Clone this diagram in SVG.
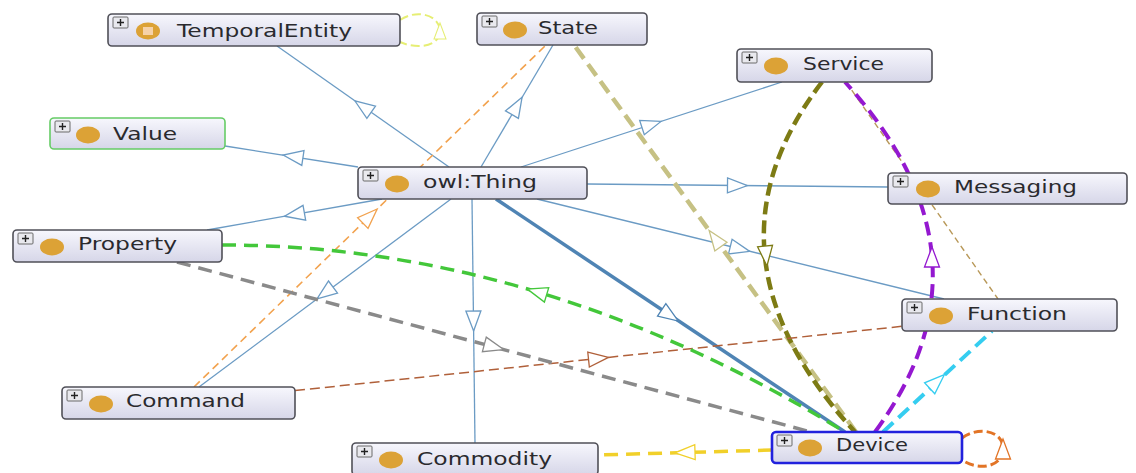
<svg xmlns="http://www.w3.org/2000/svg" xmlns:xlink="http://www.w3.org/1999/xlink" width="1136" height="473" viewBox="0 0 1136 473">
  <defs>
    <linearGradient id="nodeFill" x1="0" y1="0" x2="0" y2="1">
      <stop offset="0" stop-color="#f7f7fd"/>
      <stop offset="1" stop-color="#d6d6e8"/>
    </linearGradient>
    <!-- open triangular arrowhead, centred on the origin, pointing along +x -->
    <path id="ah" d="M10,0 L-10,-7.5 L-10,7.5 Z"/>
    <!-- expand toggle shown at each node's top-left corner -->
    <g id="plus">
      <rect x="0" y="0" width="15" height="11" rx="1" fill="#e9e9ee" stroke="#6a6a6a" stroke-width="1"/>
      <path d="M4,5.5 H11 M7.5,2 V9" stroke="#222" stroke-width="1.4"/>
    </g>
  </defs>
  <style>
    .box { fill: url(#nodeFill); stroke: #505058; stroke-width: 1.6; }
    .icon { fill: #dca236; }
    .lbl { font-family: "DejaVu Sans", "Liberation Sans", sans-serif; font-size: 17px; fill: #2a2a2e; }
    .edge { fill: none; }
    .head { fill: #ffffff; stroke-width: 1.3; }
    .sub { stroke: #6b9bc4; stroke-width: 1.3; }
    .subThick { stroke: #4f84b4; stroke-width: 3.5; }
  </style>

  <rect width="1136" height="473" fill="#ffffff"/>

  <g id="connectors">
    <!-- subclass links from owl:Thing -->
    <line class="edge sub" x1="449" y1="167" x2="277" y2="46"/>
    <use xlink:href="#ah" class="head" stroke="#6b9bc4" transform="translate(363,106.5) rotate(215.1)"/>
    <line class="edge sub" x1="481" y1="167" x2="553" y2="45"/>
    <use xlink:href="#ah" class="head" stroke="#6b9bc4" transform="translate(517,106) rotate(-59.7)"/>
    <line class="edge sub" x1="521" y1="167" x2="782" y2="82"/>
    <use xlink:href="#ah" class="head" stroke="#6b9bc4" transform="translate(651.5,124.5) rotate(-18)"/>
    <line class="edge sub" x1="358" y1="167" x2="225" y2="146"/>
    <use xlink:href="#ah" class="head" stroke="#6b9bc4" transform="translate(293,156.5) rotate(188.5)"/>
    <line class="edge sub" x1="587" y1="184" x2="888" y2="187"/>
    <use xlink:href="#ah" class="head" stroke="#6b9bc4" transform="translate(737.5,185.5) rotate(0.5)"/>
    <line class="edge sub" x1="537" y1="199" x2="944" y2="299"/>
    <use xlink:href="#ah" class="head" stroke="#6b9bc4" transform="translate(740,249) rotate(13.8)"/>
    <line class="edge sub" x1="382" y1="199" x2="207" y2="230"/>
    <use xlink:href="#ah" class="head" stroke="#6b9bc4" transform="translate(294.5,214.5) rotate(169.9)"/>
    <line class="edge sub" x1="472" y1="199" x2="475" y2="443"/>
    <use xlink:href="#ah" class="head" stroke="#6b9bc4" transform="translate(473.5,321) rotate(89.4)"/>
    <line class="edge sub" x1="451" y1="199" x2="199" y2="387"/>
    <use xlink:href="#ah" class="head" stroke="#6b9bc4" transform="translate(325,293) rotate(143.2)"/>
    <line class="edge subThick" x1="496" y1="199" x2="845" y2="432"/>
    <use xlink:href="#ah" class="head" stroke="#4f84b4" transform="translate(670,315.5) rotate(33.75)"/>

    <!-- object property links -->
    <line class="edge" stroke="#f2a24e" stroke-width="1.6" stroke-dasharray="8 5" x1="194" y1="387" x2="546" y2="45"/>
    <use xlink:href="#ah" class="head" stroke="#f2a24e" transform="translate(370,216) rotate(-44.2)"/>

    <line class="edge" stroke="#b89858" stroke-width="1.4" stroke-dasharray="6 4" x1="846" y1="82" x2="998" y2="299"/>

    <line class="edge" stroke="#c6c184" stroke-width="4.5" stroke-dasharray="14 7" x1="856" y1="432" x2="574" y2="45"/>
    <use xlink:href="#ah" class="head" stroke="#c6c184" transform="translate(715,238.5) rotate(233.9)"/>

    <path class="edge" stroke="#7d7b14" stroke-width="4.5" stroke-dasharray="13 6" d="M822,82 Q691,253 855,432"/>
    <use xlink:href="#ah" class="head" stroke="#7d7b14" transform="translate(766,256) rotate(84.6)"/>

    <path class="edge" stroke="#9418d0" stroke-width="4" stroke-dasharray="14 7" d="M875,432 Q1004,257 845,82"/>
    <use xlink:href="#ah" class="head" stroke="#9418d0" transform="translate(932,257) rotate(-90)"/>

    <line class="edge" stroke="#b0603a" stroke-width="1.5" stroke-dasharray="10 5" x1="295" y1="390.6" x2="902" y2="326.3"/>
    <use xlink:href="#ah" class="head" stroke="#b0603a" transform="translate(598.5,358.5) rotate(-6)"/>

    <path class="edge" stroke="#43c73a" stroke-width="3.5" stroke-dasharray="14 8" d="M222,245 Q540,245 845,432"/>
    <use xlink:href="#ah" class="head" stroke="#43c73a" transform="translate(537,292) rotate(196.7)"/>

    <line class="edge" stroke="#8a8a8a" stroke-width="3.5" stroke-dasharray="14 8" x1="177" y1="262" x2="811" y2="432"/>
    <use xlink:href="#ah" class="head" stroke="#8a8a8a" transform="translate(494,347) rotate(15)"/>

    <line class="edge" stroke="#f1d02a" stroke-width="3.5" stroke-dasharray="14 8" x1="772" y1="450" x2="598" y2="455"/>
    <use xlink:href="#ah" class="head" stroke="#f1d02a" transform="translate(685,452.5) rotate(178.2)"/>

    <line class="edge" stroke="#35cdf0" stroke-width="4" stroke-dasharray="14 7" x1="883" y1="432" x2="992" y2="331"/>
    <use xlink:href="#ah" class="head" stroke="#35cdf0" transform="translate(937,381.5) rotate(-42.9)"/>

    <!-- self links -->
    <path class="edge" stroke="#e6ee74" stroke-width="2" stroke-dasharray="9 4" d="M400,20 C418,8 440,16 440,31 C440,46 418,50 400,42"/>
    <use xlink:href="#ah" class="head" stroke="#e6ee74" transform="translate(440,31) rotate(-90) scale(0.8)"/>
    <path class="edge" stroke="#e27426" stroke-width="3" stroke-dasharray="9 4" d="M962,438 C980,425 1004,432 1003,449 C1003,466 980,472 962,460"/>
    <use xlink:href="#ah" class="head" stroke="#e27426" transform="translate(1003,449) rotate(-90)"/>
  </g>

  <g id="node-temporalentity">
    <rect class="box" x="108" y="14" width="292" height="32" rx="4"/>
    <use xlink:href="#plus" x="113" y="17"/>
    <ellipse class="icon" cx="148" cy="31" rx="12" ry="8.5"/>
    <rect x="143" y="27" width="10" height="8" fill="#f6d2a8"/>
    <text class="lbl" x="177" y="37" textLength="175" lengthAdjust="spacingAndGlyphs">TemporalEntity</text>
  </g>

  <g id="node-state">
    <rect class="box" x="477" y="13" width="170" height="32" rx="4"/>
    <use xlink:href="#plus" x="482" y="16"/>
    <ellipse class="icon" cx="515" cy="30" rx="12" ry="8.5"/>
    <text class="lbl" x="538" y="34" textLength="60" lengthAdjust="spacingAndGlyphs">State</text>
  </g>

  <g id="node-service">
    <rect class="box" x="737" y="49" width="195" height="33" rx="4"/>
    <use xlink:href="#plus" x="742" y="52"/>
    <ellipse class="icon" cx="776" cy="66" rx="12" ry="8.5"/>
    <text class="lbl" x="803" y="70" textLength="81" lengthAdjust="spacingAndGlyphs">Service</text>
  </g>

  <g id="node-value">
    <rect class="box" x="50" y="118" width="175" height="31" rx="4" style="stroke:#66cc66"/>
    <use xlink:href="#plus" x="55" y="121"/>
    <ellipse class="icon" cx="88" cy="135" rx="12" ry="8.5"/>
    <text class="lbl" x="113" y="140" textLength="64" lengthAdjust="spacingAndGlyphs">Value</text>
  </g>

  <g id="node-owl-thing">
    <rect class="box" x="358" y="167" width="229" height="32" rx="4"/>
    <use xlink:href="#plus" x="363" y="170"/>
    <ellipse class="icon" cx="397" cy="184" rx="12" ry="8.5"/>
    <text class="lbl" x="423" y="188" textLength="114" lengthAdjust="spacingAndGlyphs">owl:Thing</text>
  </g>

  <g id="node-messaging">
    <rect class="box" x="888" y="173" width="239" height="31" rx="4"/>
    <use xlink:href="#plus" x="893" y="176"/>
    <ellipse class="icon" cx="928" cy="189" rx="12" ry="8.5"/>
    <text class="lbl" x="954" y="193" textLength="123" lengthAdjust="spacingAndGlyphs">Messaging</text>
  </g>

  <g id="node-property">
    <rect class="box" x="13" y="230" width="209" height="32" rx="4"/>
    <use xlink:href="#plus" x="18" y="233"/>
    <ellipse class="icon" cx="52" cy="247" rx="12" ry="8.5"/>
    <text class="lbl" x="78" y="250" textLength="99" lengthAdjust="spacingAndGlyphs">Property</text>
  </g>

  <g id="node-function">
    <rect class="box" x="902" y="299" width="215" height="32" rx="4"/>
    <use xlink:href="#plus" x="907" y="302"/>
    <ellipse class="icon" cx="941" cy="316" rx="12" ry="8.5"/>
    <text class="lbl" x="967" y="320" textLength="100" lengthAdjust="spacingAndGlyphs">Function</text>
  </g>

  <g id="node-command">
    <rect class="box" x="62" y="387" width="233" height="32" rx="4"/>
    <use xlink:href="#plus" x="67" y="390"/>
    <ellipse class="icon" cx="101" cy="404" rx="12" ry="8.5"/>
    <text class="lbl" x="126" y="407" textLength="119" lengthAdjust="spacingAndGlyphs">Command</text>
  </g>

  <g id="node-commodity">
    <rect class="box" x="352" y="443" width="246" height="32" rx="4"/>
    <use xlink:href="#plus" x="357" y="446"/>
    <ellipse class="icon" cx="391" cy="460" rx="12" ry="8.5"/>
    <text class="lbl" x="417" y="465" textLength="135" lengthAdjust="spacingAndGlyphs">Commodity</text>
  </g>

  <g id="node-device">
    <rect class="box" x="772" y="432" width="190" height="31" rx="4" style="stroke:#2222dd;stroke-width:2.6"/>
    <use xlink:href="#plus" x="777" y="435"/>
    <ellipse class="icon" cx="810" cy="448" rx="12" ry="8.5"/>
    <text class="lbl" x="836" y="451" textLength="72" lengthAdjust="spacingAndGlyphs">Device</text>
  </g>
</svg>
